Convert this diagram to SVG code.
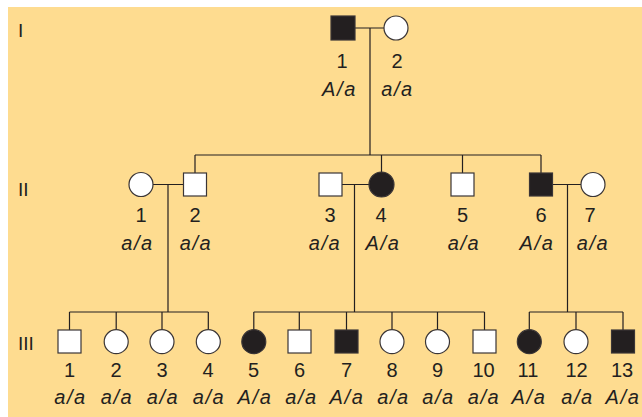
<svg xmlns="http://www.w3.org/2000/svg" width="642" height="417" viewBox="0 0 642 417">
<style>
.ln{stroke:#231f20;stroke-width:1.2;fill:none}
.sym{stroke:#3a3536;stroke-width:1.2}
.open{fill:#ffffff}
.aff{fill:#231f20}
.num{font-family:"Liberation Sans",Arial,sans-serif;font-size:20px;fill:#231f20;text-anchor:middle}
.gt{font-family:"Liberation Sans",Arial,sans-serif;font-size:20px;font-style:italic;fill:#231f20;text-anchor:middle;letter-spacing:1.6px}
.gen{font-family:"Liberation Sans",Arial,sans-serif;font-size:19px;fill:#231f20}
</style>
<rect x="8" y="7" width="634" height="410" fill="#FEDC90"/>
<g id="generation-labels">
<text class="gen" x="18" y="37">I</text>
<text class="gen" x="18" y="196">II</text>
<text class="gen" x="18" y="350">III</text>
</g>
<g id="connectors">
<!-- generation I -->
<path class="ln" d="M355 28H384M370 28V155"/>
<path class="ln" d="M195 155H541M195 155V173M381.5 155V172M462.5 155V173M541 155V173"/>
<!-- generation II couples -->
<path class="ln" d="M153 184.5H183.5M168 184.5V312"/>
<path class="ln" d="M342 184.5H369M354.5 184.5V312"/>
<path class="ln" d="M552.5 184.5H581M567.5 184.5V312"/>
<!-- generation III sibships -->
<path class="ln" d="M69.5 312H208.3M69.5 312V330M116.2 312V329.7M162 312V329.7M208.3 312V329.7"/>
<path class="ln" d="M253.8 312H484.5M253.8 312V329.7M299.3 312V330M346.5 312V330M392 312V329.7M437.5 312V329.7M484.5 312V330"/>
<path class="ln" d="M529.3 312H623M529.3 312V329.7M576 312V329.7M623 312V330"/>
</g>
<g id="I-1"><rect class="sym aff" x="331" y="16" width="24" height="24"/><text class="num" x="342" y="68">1</text><text class="gt" x="339.5" y="96">A/a</text></g>
<g id="I-2"><circle class="sym open" cx="396" cy="28" r="12"/><text class="num" x="397" y="68">2</text><text class="gt" x="397.5" y="96">a/a</text></g>
<g id="II-1"><circle class="sym open" cx="141" cy="184.5" r="12"/><text class="num" x="141" y="222">1</text><text class="gt" x="137.5" y="250">a/a</text></g>
<g id="II-2"><rect class="sym open" x="183.5" y="173" width="23" height="23"/><text class="num" x="195" y="222">2</text><text class="gt" x="196" y="250">a/a</text></g>
<g id="II-3"><rect class="sym open" x="319" y="173" width="23" height="23"/><text class="num" x="330" y="222">3</text><text class="gt" x="325" y="250">a/a</text></g>
<g id="II-4"><circle class="sym aff" cx="381.5" cy="184.5" r="12.5"/><text class="num" x="381" y="222">4</text><text class="gt" x="383" y="250">A/a</text></g>
<g id="II-5"><rect class="sym open" x="451" y="173" width="23" height="23"/><text class="num" x="462.5" y="222">5</text><text class="gt" x="464" y="250">a/a</text></g>
<g id="II-6"><rect class="sym aff" x="529.5" y="173" width="23" height="23"/><text class="num" x="541" y="222">6</text><text class="gt" x="537" y="250">A/a</text></g>
<g id="II-7"><circle class="sym open" cx="593" cy="184.5" r="12"/><text class="num" x="590" y="222">7</text><text class="gt" x="593" y="250">a/a</text></g>
<g id="III-1"><rect class="sym open" x="58" y="330" width="23" height="23"/><text class="num" x="69.5" y="377">1</text><text class="gt" x="70.5" y="404">a/a</text></g>
<g id="III-2"><circle class="sym open" cx="116.2" cy="341.7" r="12"/><text class="num" x="116" y="377">2</text><text class="gt" x="117" y="404">a/a</text></g>
<g id="III-3"><circle class="sym open" cx="162" cy="341.7" r="12"/><text class="num" x="162" y="377">3</text><text class="gt" x="163" y="404">a/a</text></g>
<g id="III-4"><circle class="sym open" cx="208.3" cy="341.7" r="12"/><text class="num" x="208" y="377">4</text><text class="gt" x="209" y="404">a/a</text></g>
<g id="III-5"><circle class="sym aff" cx="253.8" cy="341.7" r="12"/><text class="num" x="253.5" y="377">5</text><text class="gt" x="255" y="404">A/a</text></g>
<g id="III-6"><rect class="sym open" x="288" y="330" width="23" height="23"/><text class="num" x="299.5" y="377">6</text><text class="gt" x="301.5" y="404">a/a</text></g>
<g id="III-7"><rect class="sym aff" x="335" y="330" width="23" height="23"/><text class="num" x="346.5" y="377">7</text><text class="gt" x="347" y="404">A/a</text></g>
<g id="III-8"><circle class="sym open" cx="392" cy="341.7" r="12"/><text class="num" x="392" y="377">8</text><text class="gt" x="393.5" y="404">a/a</text></g>
<g id="III-9"><circle class="sym open" cx="437.5" cy="341.7" r="12"/><text class="num" x="437.5" y="377">9</text><text class="gt" x="438.5" y="404">a/a</text></g>
<g id="III-10"><rect class="sym open" x="473" y="330" width="23" height="23"/><text class="num" x="483.5" y="377">10</text><text class="gt" x="484" y="404">a/a</text></g>
<g id="III-11"><circle class="sym aff" cx="529.3" cy="341.7" r="12"/><text class="num" x="528" y="377">11</text><text class="gt" x="529" y="404">A/a</text></g>
<g id="III-12"><circle class="sym open" cx="576" cy="341.7" r="12"/><text class="num" x="576.5" y="377">12</text><text class="gt" x="577.5" y="404">a/a</text></g>
<g id="III-13"><rect class="sym aff" x="611.5" y="330" width="23" height="23"/><text class="num" x="622" y="377">13</text><text class="gt" x="623" y="404">A/a</text></g>
</svg>
